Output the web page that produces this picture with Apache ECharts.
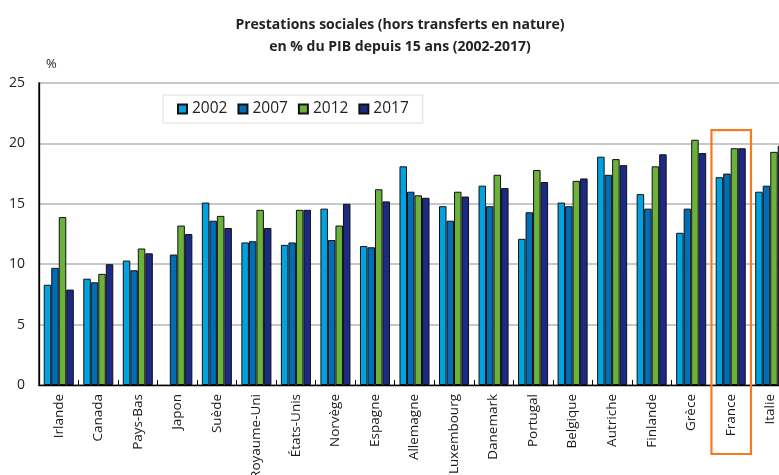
<!DOCTYPE html>
<html><head><meta charset="utf-8">
<script src="https://cdn.jsdelivr.net/npm/echarts@6/dist/echarts.min.js"></script>
<style>html,body{margin:0;padding:0;background:#fff}#c{width:779px;height:475px}</style>
</head><body><div id="c"></div>
<script>
const categories = ['Irlande','Canada','Pays-Bas','Japon','Suède','Royaume-Uni','États-Unis','Norvège','Espagne','Allemagne','Luxembourg','Danemark','Portugal','Belgique','Autriche','Finlande','Grèce','France','Italie'];
const years = ['2002','2007','2012','2017'];
const v2002 = [8.3, 8.8, 10.3, null, 15.1, 11.8, 11.6, 14.6, 11.5, 18.1, 14.8, 16.5, 12.1, 15.1, 18.9, 15.8, 12.6, 17.2, 16.0];
const v2007 = [9.7, 8.5, 9.5, 10.8, 13.6, 11.9, 11.8, 12.0, 11.4, 16.0, 13.6, 14.8, 14.3, 14.8, 17.4, 14.6, 14.6, 17.5, 16.5];
const v2012 = [13.9, 9.2, 11.3, 13.2, 14.0, 14.5, 14.5, 13.2, 16.2, 15.7, 16.0, 17.4, 17.8, 16.9, 18.7, 18.1, 20.3, 19.6, 19.3];
const v2017 = [7.9, 10.0, 10.9, 12.5, 13.0, 13.0, 14.5, 15.0, 15.2, 15.5, 15.6, 16.3, 16.8, 17.1, 18.2, 19.1, 19.2, 19.6, 19.8];
const yTicks = [0, 5, 10, 15, 20, 25];
const colors = ['#00A3E0', '#006DB6', '#6BB23C', '#1B2A84'];
const highlight = 'France';

const chart = echarts.init(document.getElementById('c'));
const seriesData = [v2002, v2007, v2012, v2017];
chart.setOption({
  animation: false,
  textStyle: {fontFamily: '"Open Sans", "Liberation Sans", sans-serif'},
  title: {
    text: 'Prestations sociales (hors transferts en nature)\nen % du PIB depuis 15 ans (2002-2017)',
    left: 395, top: 9, textAlign: 'center',
    textStyle: {fontSize: 14, fontWeight: 'bold', color: '#222', lineHeight: 22, fontFamily: '"Open Sans", sans-serif'}
  },
  legend: {
    data: years, left: 163, top: 95,
    padding: [6, 14, 6, 14], itemGap: 10, itemWidth: 9, itemHeight: 9,
    borderColor: '#dcdcdc', borderWidth: 1, icon: 'rect',
    textStyle: {fontSize: 15.5, color: '#222'}
  },
  grid: {left: 39, top: 83, width: 751, height: 302, show: true, borderColor: '#000', borderWidth: 1.3,
         containLabel: false, outerBoundsMode: 'none'},
  xAxis: {
    type: 'category', data: categories,
    axisLine: {lineStyle: {color: '#000', width: 1.3}},
    axisTick: {show: true, inside: true, length: 5, lineStyle: {color: '#000'}},
    axisLabel: {rotate: 90, fontSize: 13.5, color: '#1a1a1a', margin: 9, interval: 0}
  },
  yAxis: {
    type: 'value', min: yTicks[0], max: yTicks[yTicks.length - 1], interval: 5,
    name: '%', nameLocation: 'end', nameGap: 12,
    nameTextStyle: {fontSize: 13, color: '#222', align: 'left', padding: [0, 0, 0, 7]},
    axisLine: {show: true, lineStyle: {color: '#000', width: 1.3}},
    axisTick: {show: false},
    axisLabel: {fontSize: 14, color: '#222', margin: 14},
    splitLine: {lineStyle: {color: '#c8c8c8', width: 2}}
  },
  series: years.map((y, i) => ({
    name: y, type: 'bar', data: seriesData[i],
    barGap: '0%', barCategoryGap: '24%',
    itemStyle: {color: colors[i], borderColor: '#111', borderWidth: 1}
  }))
});

const cx = chart.convertToPixel({xAxisIndex: 0}, highlight);
const cw = 751 / categories.length;
const topY = chart.convertToPixel({yAxisIndex: 0}, 21.1);
chart.setOption({
  graphic: [{
    type: 'rect', z: 100,
    shape: {x: cx - cw / 2 + 0.5, y: topY, width: cw, height: 454 - topY},
    style: {fill: 'none', stroke: '#F47B20', lineWidth: 2.2}
  }]
});
</script></body></html>
